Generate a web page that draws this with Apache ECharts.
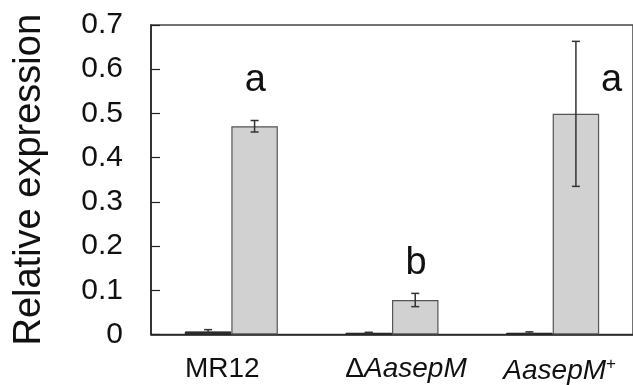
<!DOCTYPE html>
<html>
<head>
<meta charset="utf-8">
<script src="https://cdn.jsdelivr.net/npm/echarts@6/dist/echarts.min.js"></script>
<style>html,body{margin:0;padding:0;background:#fff}#c{width:633px;height:385px}</style>
</head>
<body>
<div id="c"></div>
<script>
var categories = ['MR12', 'ΔAasepM', 'AasepM+'];
var darkValues = [0.007, 0.004, 0.004];
var darkErrors = [0.004, 0.001, 0.002];
var grayValues = [0.471, 0.078, 0.499];
var grayErrors = [0.013, 0.015, 0.164];
var letters = ['a', 'b', 'a'];
var letterY = [0.575, 0.161, 0.575];
var yTicks = [0, 0.1, 0.2, 0.3, 0.4, 0.5, 0.6, 0.7];

var FONT = 'Liberation Sans, Arial, sans-serif';
var BAR_W = 46.5;
var chart = echarts.init(document.getElementById('c'), null, {renderer: 'canvas'});

var catData = categories.map(function (c, i) {
  var v = c;
  if (c.indexOf('Δ') === 0) v = '{d|Δ}{i|' + c.slice(1) + '}';
  else if (c.slice(-1) === '+') v = '{i|' + c.slice(0, -1) + '}{s|+}';
  var item = {value: v};
  if (i === 0) item.textStyle = {padding: [0, 18, 0, 0]};
  if (i === 1) item.textStyle = {padding: [0, 0, 0, 28]};
  if (i === 2) item.textStyle = {padding: [0, 0, 0, 14]};
  return item;
});

function errSeries(vals, errs, side) {
  return {
    type: 'custom',
    z: 5,
    data: vals.map(function (v, i) { return [i, v, errs[i]]; }),
    renderItem: function (params, api) {
      var i = api.value(0), v = api.value(1), e = api.value(2);
      var hi = api.coord([i, v + e]);
      var lo = api.coord([i, v - e]);
      var x = hi[0] + side * BAR_W / 2;
      var cap = 4;
      var st = {stroke: '#333', lineWidth: 1.5};
      return {type: 'group', children: [
        {type: 'line', shape: {x1: x, y1: hi[1], x2: x, y2: lo[1]}, style: st},
        {type: 'line', shape: {x1: x - cap, y1: hi[1], x2: x + cap, y2: hi[1]}, style: st},
        {type: 'line', shape: {x1: x - cap, y1: lo[1], x2: x + cap, y2: lo[1]}, style: st}
      ]};
    }
  };
}

chart.setOption({
  animation: false,
  grid: {left: 151, top: 25, width: 491, height: 313, show: true, borderColor: '#444', borderWidth: 1.5, backgroundColor: 'transparent'},
  xAxis: {
    type: 'category',
    data: catData,
    axisLine: {lineStyle: {color: '#222', width: 1.5}},
    axisTick: {show: false},
    axisLabel: {
      interval: 0, hideOverlap: false,
      margin: 21, fontFamily: FONT, fontSize: 28, color: '#111',
      rich: {
        d: {fontFamily: FONT, fontSize: 28, color: '#111'},
        i: {fontFamily: FONT, fontSize: 28, fontStyle: 'italic', color: '#111'},
        s: {fontFamily: FONT, fontSize: 17, color: '#111', padding: [0, 0, 14, 0]}
      }
    }
  },
  yAxis: {
    type: 'value', min: 0, max: 0.7, interval: 0.1,
    name: 'Relative expression', nameLocation: 'middle', nameGap: 102,
    nameTextStyle: {fontFamily: FONT, fontSize: 38, color: '#111'},
    axisLine: {show: true, lineStyle: {color: '#222', width: 1.5}},
    axisTick: {show: true, inside: true, length: 9, lineStyle: {color: '#222', width: 1.2}},
    splitLine: {show: false},
    axisLabel: {margin: 28, fontFamily: FONT, fontSize: 30, color: '#111',
      formatter: function (v) { var t = yTicks.filter(function (k) { return Math.abs(k - v) < 1e-9; }); return t.length ? String(t[0]) : ''; }}
  },
  series: [
    {type: 'bar', data: darkValues, barWidth: BAR_W, barGap: '0%',
      itemStyle: {color: '#333', borderColor: '#222', borderWidth: 1}},
    {type: 'bar', data: grayValues, barWidth: BAR_W, barGap: '0%',
      itemStyle: {color: '#d0d1d0', borderColor: '#555', borderWidth: 1.2}},
    errSeries(darkValues, darkErrors, -1),
    errSeries(grayValues, grayErrors, 1),
    {type: 'scatter', symbolSize: 0, z: 6, itemStyle: {opacity: 1},
      data: letters.map(function (l, i) {
        return {value: [i, letterY[i]], label: {offset: [i === 2 ? 59 : 24, 0]}};
      }),
      label: {show: true, position: 'inside', fontFamily: FONT, fontSize: 38, color: '#111', opacity: 1,
        formatter: function (p) { return letters[p.dataIndex]; }}
    }
  ]
});
</script>
</body>
</html>
